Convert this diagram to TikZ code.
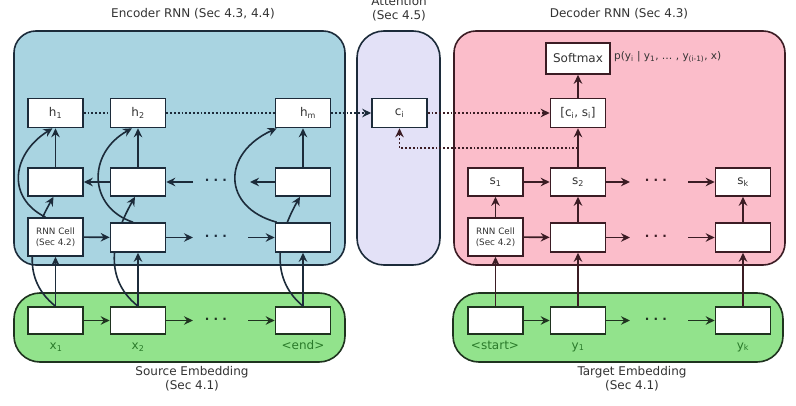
\documentclass[tikz,border=0pt]{standalone}
\usepackage{fontspec}
\setmainfont{DejaVu Sans}
\usetikzlibrary{arrows.meta,calc}
\definecolor{encfill}{HTML}{A9D4E1}
\definecolor{attfill}{HTML}{E3E1F7}
\definecolor{decfill}{HTML}{FBBDCA}
\definecolor{embfill}{HTML}{92E38C}
\definecolor{encline}{HTML}{1C2B3A}
\definecolor{decline}{HTML}{3B1C24}
\definecolor{embline}{HTML}{1F331F}
\definecolor{txt}{HTML}{333333}
\definecolor{greentxt}{HTML}{2A7A2A}
\begin{document}
\begin{tikzpicture}[x=1pt,y=-1pt,
  panel/.style={draw=#1, line width=1.6pt, inner sep=0pt},
  cellbox/.style={draw=#1, fill=white, line width=1.6pt, minimum width=55pt, minimum height=29pt, inner sep=0pt, text=txt, font=\fontsize{12}{13}\selectfont},
  rnncell/.style={cellbox=#1, minimum height=38pt, align=center, font=\fontsize{8.8}{11}\selectfont},
  embbox/.style={cellbox=#1, minimum height=27pt},
  tip/.style={-{Stealth[length=9pt,width=8.5pt,inset=3pt]}},
  arr/.style={draw=#1, line width=1.6pt, tip},
  dotline/.style={draw=#1, line width=1.9pt, dash pattern=on 1.8pt off 2pt},
  title/.style={text=txt, font=\fontsize{12}{14}\selectfont, align=center, inner sep=0pt},
  elabel/.style={text=greentxt, font=\fontsize{12}{13}\selectfont, inner sep=0pt},
  dots/.style={font=\fontsize{12}{13}\selectfont\bfseries, inner sep=0pt, text=#1}
]
\useasboundingbox (0,0) rectangle (796,406);
\fill[white] (0,0) rectangle (796,406);

% panels
\node[panel=encline, fill=encfill, minimum width=331pt, minimum height=234pt, rounded corners=22pt] (enc) at (179.5,148) {};
\node[panel=encline, fill=attfill, minimum width=83pt, minimum height=234pt, rounded corners=27pt] (att) at (398.5,148) {};
\node[panel=decline, fill=decfill, minimum width=331pt, minimum height=234pt, rounded corners=22pt] (dec) at (619.5,148) {};
\node[panel=embline, fill=embfill, minimum width=331pt, minimum height=69pt, rounded corners=26pt] (src) at (179.5,327.5) {};
\node[panel=embline, fill=embfill, minimum width=330pt, minimum height=69pt, rounded corners=26pt] (tgt) at (618,327.5) {};

% titles
\node[title] (tenc) at (193,14) {Encoder RNN (Sec 4.3, 4.4)};
\node[title] (tatt) at (399,8.5) {Attention\\(Sec 4.5)};
\node[title] (tdec) at (619,14) {Decoder RNN (Sec 4.3)};
\node[title] (tsrc) at (192,379) {Source Embedding\\(Sec 4.1)};
\node[title] (ttgt) at (632,379) {Target Embedding\\(Sec 4.1)};

% encoder boxes
\node[cellbox=encline] (h1) at (55.5,113) {h\textsubscript{1}};
\node[cellbox=encline] (h2) at (138,113) {h\textsubscript{2}};
\node[cellbox=encline] (hm) at (303,113) {\hspace{10pt}h\textsubscript{m}};
\node[cellbox=encline, minimum height=28pt] (b1) at (55.5,182) {};
\node[cellbox=encline, minimum height=28pt] (b2) at (138,182) {};
\node[cellbox=encline, minimum height=28pt] (bm) at (303,182) {};
\node[embbox=embline] (x1) at (55.5,320.5) {};
\node[embbox=embline] (x2) at (138,320.5) {};
\node[embbox=embline] (xm) at (303,320.5) {};

% curved connectors (drawn before the RNN row so they pass behind it)
\draw[arr=encline] (x1.north) .. controls +(-38,-30) and +(-20,35) .. ([xshift=-2pt]b1.south);
\draw[arr=encline] (x2.north) .. controls +(-38,-30) and +(-20,35) .. ([xshift=-3pt]b2.south);
\draw[arr=encline] (xm.north) .. controls +(-36,-30) and +(-20,35) .. ([xshift=-3pt]bm.south);

\node[rnncell=encline] (f1) at (55.5,237) {RNN Cell\\(Sec 4.2)};
\node[cellbox=encline] (f2) at (138,237.5) {};
\node[cellbox=encline] (fm) at (303,237.5) {};

\draw[arr=encline] ([xshift=-10pt]f1.north) .. controls +(-40,-20) and +(-40,25) .. ([xshift=-3pt]h1.south);
\draw[arr=encline] ([xshift=-5pt]f2.north) .. controls +(-45,-15) and +(-45,25) .. ([xshift=-6pt]h2.south);
\draw[arr=encline] ([xshift=2pt]fm.north west) .. controls +(-55,-15) and +(-55,25) .. ([xshift=2pt]hm.south west);

% encoder free ends
\coordinate (eb1) at (193,182);
\coordinate (eb2) at (250,182);
\coordinate (ef1) at (193,237.5);
\coordinate (ef2) at (248,237.5);
\coordinate (ex1) at (193,320.5);
\coordinate (ex2) at (248,320.5);
\node[dots=encline] (ebd) at (216,182) {· · ·};
\node[dots=encline] (efd) at (216,237.5) {· · ·};
\node[dots=embline] (exd) at (216,320.5) {· · ·};

% encoder straight arrows
\draw[arr=encline] (b2) -- (b1);
\draw[arr=encline] (eb1) -- (b2.east);
\draw[arr=encline] (bm.west) -- (eb2);
\draw[arr=encline] (f1) -- (f2);
\draw[arr=encline] (f2.east) -- (ef1);
\draw[arr=encline] (ef2) -- (fm.west);
\draw[arr=embline] (x1) -- (x2);
\draw[arr=embline] (x2.east) -- (ex1);
\draw[arr=embline] (ex2) -- (xm.west);
\draw[arr=encline] (x1.north) -- (f1.south);
\draw[arr=encline] (x2.north) -- (f2.south);
\draw[arr=encline] (xm.north) -- (fm.south);
\draw[arr=encline] (b1.north) -- (h1.south);
\draw[arr=encline] (b2.north) -- (h2.south);
\draw[arr=encline] (bm.north) -- (hm.south);

% source labels
\node[elabel] (lx1) at (56,347) {x\textsubscript{1}};
\node[elabel] (lx2) at (138,347) {x\textsubscript{2}};
\node[elabel] (lxm) at (303,345) {<end>};

% attention
\node[cellbox=encline] (ci) at (399.5,113) {c\textsubscript{i}};

% decoder boxes
\node[cellbox=decline, minimum width=64pt, minimum height=31pt] (sm) at (578,58.5) {Softmax};
\node[cellbox=decline] (cs) at (578,113) {[c\textsubscript{i}, s\textsubscript{i}]};
\node[cellbox=decline, minimum height=28pt] (s1) at (495.5,182) {s\textsubscript{1}};
\node[cellbox=decline, minimum height=28pt] (s2) at (578,182) {s\textsubscript{2}};
\node[cellbox=decline, minimum height=28pt] (sk) at (743,182) {s\textsubscript{k}};
\node[rnncell=decline] (r1) at (495.5,237) {RNN Cell\\(Sec 4.2)};
\node[cellbox=decline] (r2) at (578,237.5) {};
\node[cellbox=decline] (rk) at (743,237.5) {};
\node[embbox=embline] (y0) at (495.5,320.5) {};
\node[embbox=embline] (y1) at (578,320.5) {};
\node[embbox=embline] (yk) at (743,320.5) {};

\node[anchor=west, inner sep=0pt, text=txt, font=\fontsize{10.5}{12}\selectfont] (pl) at (614,57) {p(y\textsubscript{i} | y\textsubscript{1}, … , y\textsubscript{(i-1)}, x)};

% decoder free ends
\coordinate (ds1) at (630,182);
\coordinate (ds2) at (688,182);
\coordinate (dr1) at (630,237.5);
\coordinate (dr2) at (688,237.5);
\coordinate (dy1) at (630,320.5);
\coordinate (dy2) at (688,320.5);
\node[dots=decline] (dsd) at (656,182) {· · ·};
\node[dots=decline] (drd) at (656,237.5) {· · ·};
\node[dots=embline] (dyd) at (656,320.5) {· · ·};

\draw[arr=decline] (s1) -- (s2);
\draw[arr=decline] (s2.east) -- (ds1);
\draw[arr=decline] (ds2) -- (sk.west);
\draw[arr=decline] (r1) -- (r2);
\draw[arr=decline] (r2.east) -- (dr1);
\draw[arr=decline] (dr2) -- (rk.west);
\draw[arr=embline] (y0) -- (y1);
\draw[arr=embline] (y1.east) -- (dy1);
\draw[arr=embline] (dy2) -- (yk.west);
\draw[arr=decline] (y0.north) -- (r1.south);
\draw[arr=decline] (y1.north) -- (r2.south);
\draw[arr=decline] (yk.north) -- (rk.south);
\draw[arr=decline] (r1.north) -- (s1.south);
\draw[arr=decline] (r2.north) -- (s2.south);
\draw[arr=decline] (rk.north) -- (sk.south);
\draw[arr=decline] (s2.north) -- (cs.south);
\draw[arr=decline] (cs.north) -- (sm.south);

% target labels
\node[elabel] (ly0) at (495,345) {<start>};
\node[elabel] (ly1) at (578,347) {y\textsubscript{1}};
\node[elabel] (lyk) at (743,347) {y\textsubscript{k}};

% dotted connectors
\draw[dotline=encline] (h1.east) -- (h2.west);
\draw[dotline=encline] (h2.east) -- (hm.west);
\draw[dotline=encline, tip] (hm.east) -- (ci.west);
\draw[dotline=decline, tip] (ci.east) -- (cs.west);
\coordinate (sback) at ($(s2.north)!0.5!(cs.south)$);
\draw[dotline=decline, tip] (sback) -| (ci.south);
\end{tikzpicture}
\end{document}
